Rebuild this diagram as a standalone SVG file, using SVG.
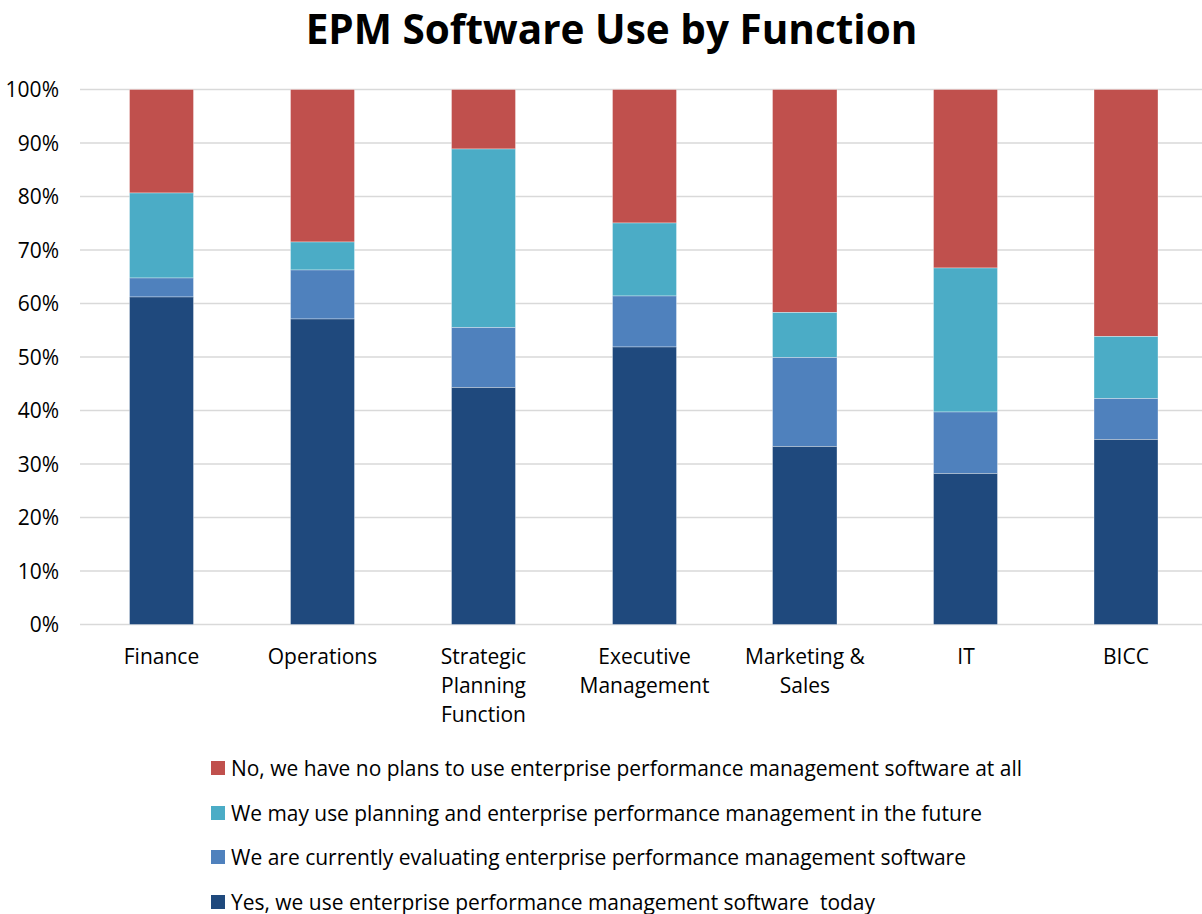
<svg xmlns="http://www.w3.org/2000/svg" width="1202" height="914" viewBox="0 0 1202 914">
<style>
.t{font-family:"Open Sans","Liberation Sans",sans-serif;fill:#000}
.ax{font-size:21px;text-anchor:end}
.cat{font-size:21px;text-anchor:middle}
.lg{font-size:21px}
.grid{stroke:#D9D9D9;stroke-width:1.5}
.r{fill:#C0504D}.c{fill:#4BACC6}.b{fill:#4F81BD}.d{fill:#1F497D}
.seg rect{stroke:#ffffff;stroke-opacity:0.35;stroke-width:1}
</style>
<rect width="1202" height="914" fill="#fff"/>
<text class="t" x="611.5" y="44" font-size="40.5" font-weight="bold" text-anchor="middle">EPM Software Use by Function</text>
<g id="grid">
<line class="grid" x1="80" y1="89.5" x2="1202" y2="89.5"/>
<line class="grid" x1="80" y1="143" x2="1202" y2="143"/>
<line class="grid" x1="80" y1="196.5" x2="1202" y2="196.5"/>
<line class="grid" x1="80" y1="250" x2="1202" y2="250"/>
<line class="grid" x1="80" y1="303.5" x2="1202" y2="303.5"/>
<line class="grid" x1="80" y1="357" x2="1202" y2="357"/>
<line class="grid" x1="80" y1="410.5" x2="1202" y2="410.5"/>
<line class="grid" x1="80" y1="464" x2="1202" y2="464"/>
<line class="grid" x1="80" y1="517.5" x2="1202" y2="517.5"/>
<line class="grid" x1="80" y1="571" x2="1202" y2="571"/>
<line class="grid" x1="80" y1="624.5" x2="1202" y2="624.5"/>
</g>
<g id="yaxis" class="t ax">
<text x="59" y="97">100%</text>
<text x="59" y="150.5">90%</text>
<text x="59" y="204">80%</text>
<text x="59" y="257.5">70%</text>
<text x="59" y="311">60%</text>
<text x="59" y="364.5">50%</text>
<text x="59" y="418">40%</text>
<text x="59" y="471.5">30%</text>
<text x="59" y="525">20%</text>
<text x="59" y="578.5">10%</text>
<text x="59" y="632">0%</text>
</g>
<g id="bar-finance" class="seg">
<rect class="r" x="129.5" y="89.5" width="64" height="103.5"/>
<rect class="c" x="129.5" y="193" width="64" height="85"/>
<rect class="b" x="129.5" y="278" width="64" height="19"/>
<rect class="d" x="129.5" y="297" width="64" height="327.5"/>
</g>
<g id="bar-operations" class="seg">
<rect class="r" x="290.5" y="89.5" width="64" height="152.5"/>
<rect class="c" x="290.5" y="242" width="64" height="28"/>
<rect class="b" x="290.5" y="270" width="64" height="49"/>
<rect class="d" x="290.5" y="319" width="64" height="305.5"/>
</g>
<g id="bar-strategic" class="seg">
<rect class="r" x="451.5" y="89.5" width="64" height="59.5"/>
<rect class="c" x="451.5" y="149" width="64" height="178.5"/>
<rect class="b" x="451.5" y="327.5" width="64" height="60"/>
<rect class="d" x="451.5" y="387.5" width="64" height="237"/>
</g>
<g id="bar-executive" class="seg">
<rect class="r" x="612.5" y="89.5" width="64" height="133.5"/>
<rect class="c" x="612.5" y="223" width="64" height="73"/>
<rect class="b" x="612.5" y="296" width="64" height="51"/>
<rect class="d" x="612.5" y="347" width="64" height="277.5"/>
</g>
<g id="bar-marketing" class="seg">
<rect class="r" x="772.5" y="89.5" width="64.5" height="223"/>
<rect class="c" x="772.5" y="312.5" width="64.5" height="45"/>
<rect class="b" x="772.5" y="357.5" width="64.5" height="89"/>
<rect class="d" x="772.5" y="446.5" width="64.5" height="178"/>
</g>
<g id="bar-it" class="seg">
<rect class="r" x="933.5" y="89.5" width="64" height="178.5"/>
<rect class="c" x="933.5" y="268" width="64" height="144"/>
<rect class="b" x="933.5" y="412" width="64" height="61.5"/>
<rect class="d" x="933.5" y="473.5" width="64" height="151"/>
</g>
<g id="bar-bicc" class="seg">
<rect class="r" x="1094" y="89.5" width="64" height="247"/>
<rect class="c" x="1094" y="336.5" width="64" height="62"/>
<rect class="b" x="1094" y="398.5" width="64" height="41"/>
<rect class="d" x="1094" y="439.5" width="64" height="185"/>
</g>
<g id="categories" class="t cat">
<text x="161.5" y="664">Finance</text>
<text x="322.5" y="664">Operations</text>
<text x="483.5" y="664">Strategic</text>
<text x="483.5" y="693">Planning</text>
<text x="483.5" y="722">Function</text>
<text x="644.5" y="664">Executive</text>
<text x="644.5" y="693">Management</text>
<text x="805" y="664">Marketing &amp;</text>
<text x="805" y="693">Sales</text>
<text x="966" y="664">IT</text>
<text x="1126" y="664">BICC</text>
</g>
<g id="legend" class="t lg">
<rect class="r" x="211" y="761" width="14" height="14"/>
<text x="231" y="776" textLength="791" lengthAdjust="spacingAndGlyphs">No, we have no plans to use enterprise performance management software at all</text>
<rect class="c" x="211" y="806" width="14" height="14"/>
<text x="231" y="821" textLength="751" lengthAdjust="spacingAndGlyphs">We may use planning and enterprise performance management in the future</text>
<rect class="b" x="211" y="850" width="14" height="14"/>
<text x="231" y="865" textLength="735" lengthAdjust="spacingAndGlyphs">We are currently evaluating enterprise performance management software</text>
<rect class="d" x="211" y="895" width="14" height="14"/>
<text x="231" y="910" xml:space="preserve" textLength="644" lengthAdjust="spacingAndGlyphs">Yes, we use enterprise performance management software  today</text>
</g>
</svg>
